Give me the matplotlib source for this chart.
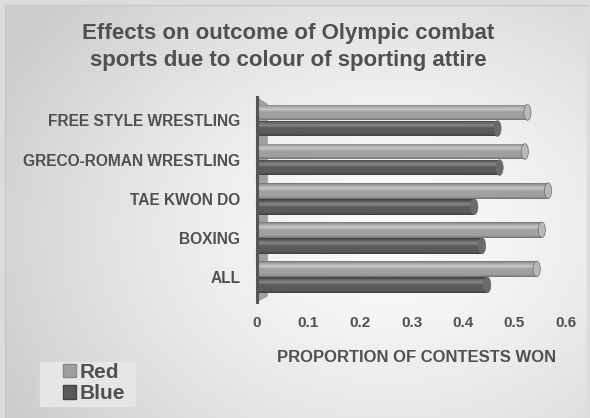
import numpy as np
import matplotlib
matplotlib.use("Agg")
import matplotlib.pyplot as plt
from matplotlib.patches import Polygon, Ellipse, Rectangle

categories = ["FREE STYLE WRESTLING", "GRECO-ROMAN WRESTLING", "TAE KWON DO", "BOXING", "ALL"]
red_values = [0.525, 0.52, 0.565, 0.553, 0.543]
blue_values = [0.467, 0.471, 0.422, 0.437, 0.447]
series_names = ["Red", "Blue"]
xticks = [0, 0.1, 0.2, 0.3, 0.4, 0.5, 0.6]
xtick_labels = ["0", "0.1", "0.2", "0.3", "0.4", "0.5", "0.6"]
title = "Effects on outcome of Olympic combat\nsports due to colour of sporting attire"
xlabel = "PROPORTION OF CONTESTS WON"

plt.rcParams['font.family'] = ['Liberation Sans', 'DejaVu Sans']
TXT = "#505050"

W, H = 590, 418
fig = plt.figure(figsize=(W / 100, H / 100), dpi=100)

# background gradient
bg = fig.add_axes([0, 0, 1, 1])
bg.set_axis_off()
yy, xx = np.mgrid[0:H, 0:W]
r = np.sqrt(((xx - 390) / 380.0) ** 2 + ((yy - 230) / 300.0) ** 2)
val = 0.985 - 0.15 * np.clip(r, 0, 1.2) ** 1.4
val = np.clip(val, 0.8, 1)
img = np.dstack([val, val, val])
bg.imshow(img, extent=[0, W, H, 0], aspect='auto', zorder=0)
bg.set_xlim(0, W)
bg.set_ylim(H, 0)
# outer frame
bg.add_patch(Rectangle((0, 0), W, 5, color="#dcdcdc", zorder=1))
bg.add_patch(Rectangle((0, 0), 5, H, color="#dcdcdc", zorder=1))
bg.add_patch(Rectangle((W - 3, 0), 3, H, color="#dcdcdc", zorder=1))
bg.plot([5, W - 3], [5, 5], color="#c8c8c8", lw=1, zorder=2)
bg.plot([5, 5], [5, H], color="#c8c8c8", lw=1, zorder=2)
# legend panel
bg.add_patch(Rectangle((40, 362), 95, 44, color="#e6e6e6", zorder=1))

left = 257 / W
right = 566 / W
top = 1 - 97 / H
bottom = 1 - 302 / H
ax = fig.add_axes([left, bottom, right - left, top - bottom])
ax.patch.set_alpha(0)
for s in ax.spines.values():
    s.set_visible(False)

n = len(categories)
ypos = np.arange(n)[::-1]  # FS at top
bh = 0.40
off = 0.205


def hexrgb(h):
    h = h.lstrip('#')
    return [int(h[i:i + 2], 16) / 255 for i in (0, 2, 4)]


def grad_colors(light, base, dark):
    t = np.linspace(0, 1, 60)
    pts = [(0.0, dark), (0.12, base), (0.32, light), (0.5, base), (0.85, base), (1.0, dark)]
    out = []
    for ti in t:
        for (a, ca), (b, cb) in zip(pts[:-1], pts[1:]):
            if a <= ti <= b:
                f = (ti - a) / (b - a) if b > a else 0
                out.append([ca[k] + (cb[k] - ca[k]) * f for k in range(3)])
                break
    return np.array(out)


red_grad = grad_colors(hexrgb("#cacaca"), hexrgb("#a0a0a0"), hexrgb("#727272"))
blue_grad = grad_colors(hexrgb("#888888"), hexrgb("#5a5a5a"), hexrgb("#3c3c3c"))

red_bars = ax.barh(ypos + off, red_values, height=bh, color="#a0a0a0", zorder=3)
blue_bars = ax.barh(ypos - off, blue_values, height=bh, color="#5a5a5a", zorder=3)

for bars, grad, capc in [(red_bars, red_grad, "#b8b8b8"), (blue_bars, blue_grad, "#6a6a6a")]:
    for b in bars:
        x0, y0 = b.get_x(), b.get_y()
        w, h = b.get_width(), b.get_height()
        im = ax.imshow(grad[:, None, :].repeat(2, axis=1), extent=[x0, x0 + w, y0, y0 + h],
                       origin='upper', aspect='auto', zorder=4, interpolation='bilinear')
        im.set_clip_path(b)
        ax.add_patch(Ellipse((x0 + w, y0 + h / 2), 0.014, h, facecolor=capc,
                             edgecolor="#6a6a6a", lw=0.5, zorder=5))

ax.set_xlim(0, 0.6)
ax.set_ylim(-0.64, 4.6)

# 3D wall
wall = Polygon([(0, 4.6), (0.021, 4.42), (0.021, -0.5), (0, -0.64)], closed=True,
               facecolor="#a0a0a0", edgecolor="none", zorder=2)
ax.add_patch(wall)
ax.plot([0, 0], [-0.64, 4.6], color="#555555", lw=2.2, zorder=6, clip_on=False)

ax.set_yticks(ypos)
ax.set_yticklabels(categories, fontsize=11.2, fontweight='bold', color=TXT)
ax.set_xticks(xticks)
ax.set_xticklabels(xtick_labels, fontsize=11, fontweight='bold', color=TXT)
ax.tick_params(axis='both', length=0)
ax.tick_params(axis='y', pad=12)
ax.tick_params(axis='x', pad=10)

fig.text(417 / W, 1 - 357 / H, xlabel, ha='center', va='center', fontsize=12,
         fontweight='bold', color=TXT)
fig.text(288 / W, 1 - 47 / H, title, ha='center', va='center', fontsize=16,
         fontweight='bold', color=TXT, linespacing=1.4)

handles = [Rectangle((0, 0), 1, 1, facecolor="#a0a0a0", edgecolor="#8a8a8a"),
           Rectangle((0, 0), 1, 1, facecolor="#5a5a5a", edgecolor="#444444")]
leg = fig.legend(handles, series_names, loc='center left', bbox_to_anchor=(63 / W, 1 - 383 / H),
                 frameon=False, handlelength=0.6, handleheight=0.6,
                 handletextpad=0.2, labelspacing=0.12, borderpad=0, borderaxespad=0,
                 prop={'weight': 'bold', 'size': 15})
for t in leg.get_texts():
    t.set_color(TXT)

fig.savefig("out.png", dpi=100)
